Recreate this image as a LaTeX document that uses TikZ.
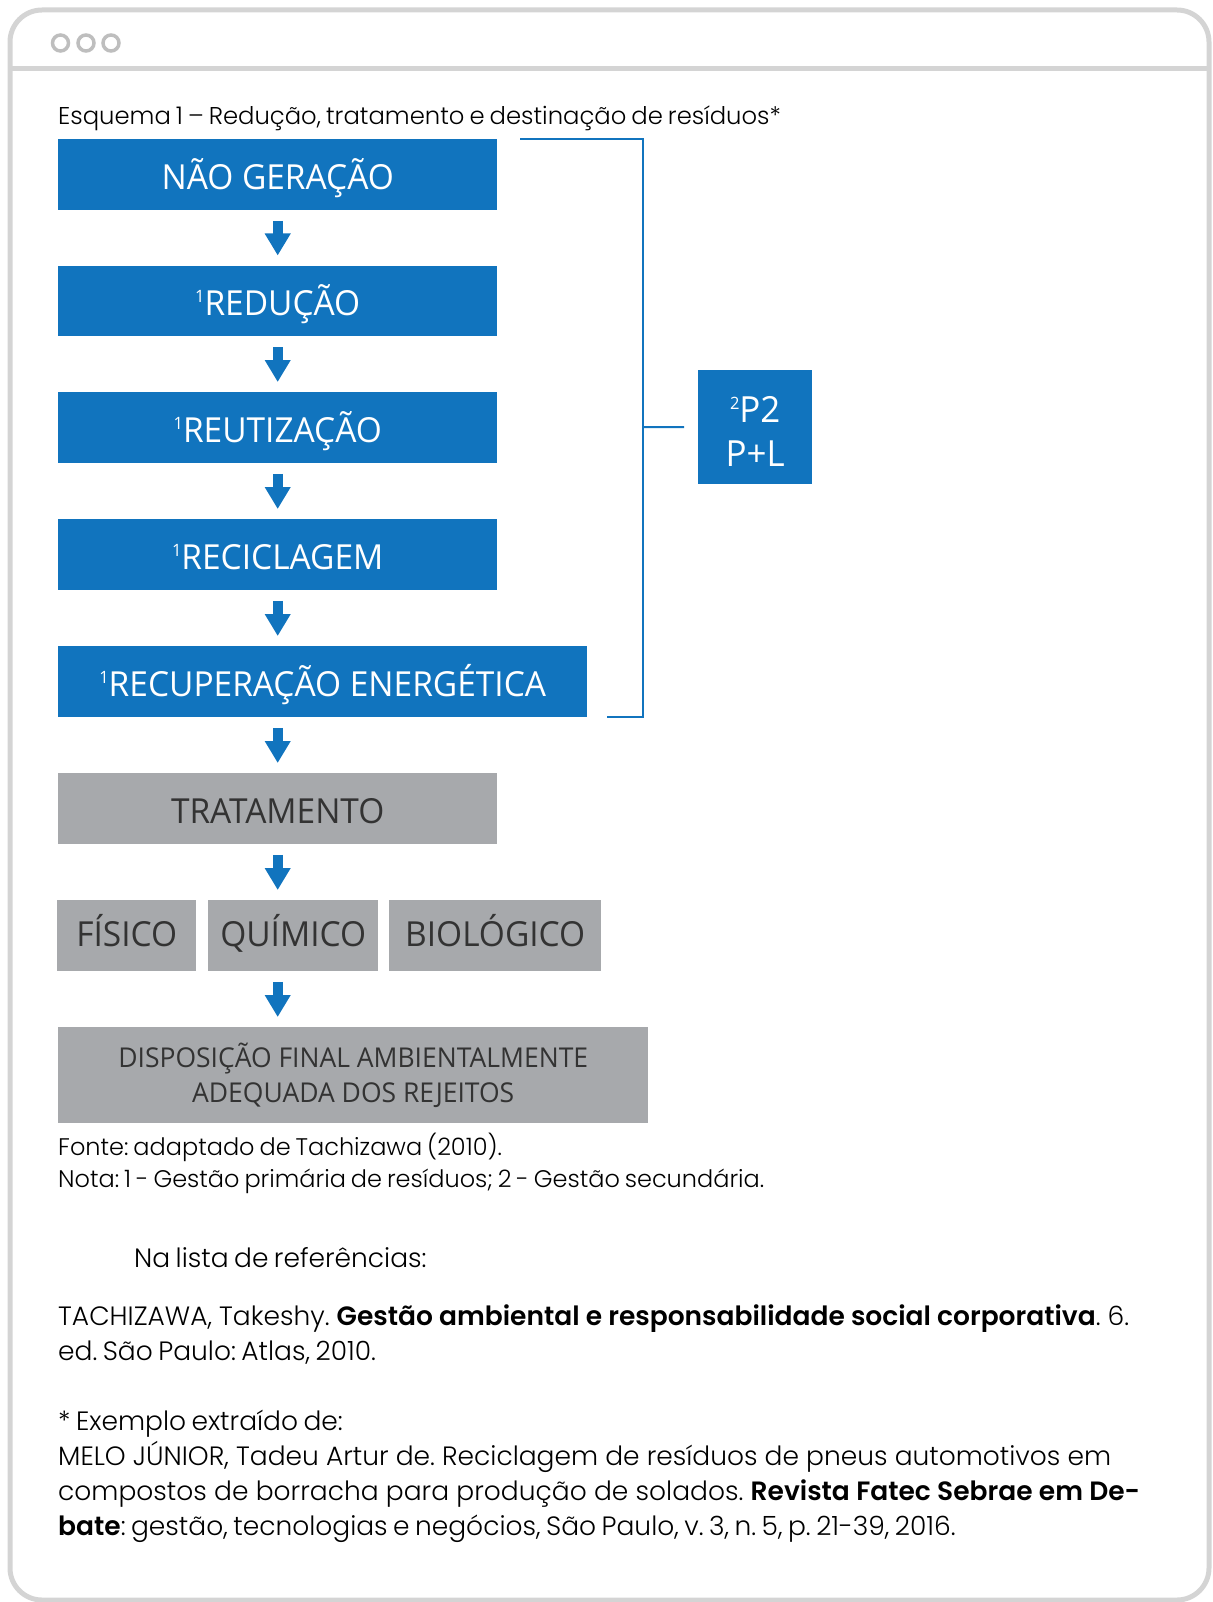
\documentclass[tikz,border=0pt]{standalone}
\usepackage{fontspec}
\setmainfont{Poppins Light}[BoldFont={Poppins SemiBold},WordSpace=0.75]
\newfontfamily\caixa{Open Sans}[FakeStretch=0.97]
\usetikzlibrary{arrows.meta,positioning}
\definecolor{azul}{RGB}{17,116,190}
\definecolor{cinza}{RGB}{167,169,172}
\definecolor{moldura}{RGB}{212,212,212}
\definecolor{bolinha}{RGB}{190,190,190}
\definecolor{escuro}{RGB}{51,51,51}
\newcommand\sobre[1]{\raisebox{13pt}{\fontsize{17}{17}\selectfont #1}}
\newcommand\linha[2]{\makebox[#1][s]{#2}}
\frenchspacing

\begin{document}
\begin{tikzpicture}[x=1pt,y=-1pt,
  caixa azul/.style={rectangle,fill=azul,text=white,inner sep=0pt,minimum height=70.5pt,text height=30pt,text depth=0pt,anchor=north west,font=\caixa\fontsize{34.5}{34.5}\selectfont},
  caixa cinza/.style={caixa azul,fill=cinza,text=escuro},
  caixa metodo/.style={caixa cinza,text height=23pt},
  seta/.style={draw=azul,line width=10pt,-{Triangle[width=24.5pt,length=22pt]},shorten <=11pt,shorten >=10pt},
  colchete/.style={draw=azul,line width=2pt},
  texto/.style={inner sep=0pt,anchor=base west,font=\fontsize{24}{24}\selectfont},
  texto ref/.style={texto,font=\fontsize{26.5}{26.5}\selectfont}]

  \useasboundingbox (0,0) rectangle (1212,1602);

  % janela
  \draw[moldura,line width=5pt,rounded corners=32pt] (10,10) rectangle (1209,1600);
  \draw[moldura,line width=5pt] (10,69) -- (1209,69);
  \foreach \x in {60.5,86,111}
    \draw[bolinha,line width=3.5pt] (\x,43) circle (8pt);

  \node[texto,font=\fontsize{24.3}{24.3}\selectfont] (legenda) at (58,125) {Esquema 1 – Redução, tratamento e destinação de resíduos*};

  % etapas
  \node[caixa azul,minimum width=439pt] (naoger) at (58,139) {NÃO GERAÇÃO};
  \node[caixa azul,minimum width=439pt] (reducao) at (58,265.5) {\sobre{1}REDUÇÃO};
  \node[caixa azul,minimum width=439pt] (reutil) at (58,392) {\sobre{1}REUTIZAÇÃO};
  \node[caixa azul,minimum width=439pt] (recicl) at (58,519) {\sobre{1}RECICLAGEM};
  \node[caixa azul,minimum width=529pt] (recup) at (58,646) {\sobre{1}RECUPERAÇÃO ENERGÉTICA};
  \node[caixa cinza,minimum width=439pt] (trat) at (58,773) {TRATAMENTO};
  \node[caixa metodo,minimum width=139pt] (fisico) at (57,900) {FÍSICO};
  \node[caixa metodo,minimum width=170pt] (quimico) at (208,900) {QUÍMICO};
  \node[caixa metodo,minimum width=212pt] (biolog) at (389,900) {BIOLÓGICO};
  \node[caixa cinza,minimum width=590pt,minimum height=96pt,text height=,text depth=,align=center,font=\caixa\fontsize{27.3}{35}\selectfont] (dispos) at (58,1027) {DISPOSIÇÃO FINAL AMBIENTALMENTE\\ADEQUADA DOS REJEITOS};

  \node[caixa azul,minimum width=114pt,minimum height=114pt,text height=78pt,text depth=0pt,align=center,font=\caixa\fontsize{36}{44}\selectfont] (p2) at (698,370) {\sobre{2}P2\\P+L};

  \draw[seta] (naoger) to (reducao);
  \draw[seta] (reducao) to (reutil);
  \draw[seta] (reutil) to (recicl);
  \draw[seta] (recicl.south) to (recicl.south |- recup.north);
  \draw[seta] (trat.north |- recup.south) to (trat.north);
  \draw[seta] (trat.south) to (trat.south |- quimico.north);
  \draw[seta] (trat.south |- quimico.south) to (trat.south |- dispos.north);

  % colchete P2 / P+L
  \coordinate (c1) at (520,139);
  \coordinate (c2) at (643,139);
  \coordinate (c3) at (643,717);
  \coordinate (c4) at (607,717);
  \coordinate (c5) at (643,427);
  \draw[colchete] (c1) -- (c2) -- (c3) -- (c4);
  \draw[colchete,shorten >=14pt] (c5) -- (p2);

  \node[texto] (fonte) at (58,1155) {Fonte: adaptado de Tachizawa (2010).};
  \node[texto] (nota) at (58,1187) {Nota: 1 - Gestão primária de resíduos; 2 - Gestão secundária.};

  \node[texto ref] (lista) at (134,1267) {Na lista de referências:};
  \node[texto ref] (ref1a) at (58,1325) {\linha{1071pt}{TACHIZAWA, Takeshy. \textbf{Gestão ambiental e responsabilidade social corporativa}. 6.}};
  \node[texto ref] (ref1b) at (58,1360) {ed. São Paulo: Atlas, 2010.};
  \node[texto ref] (ref2a) at (58,1430) {* Exemplo extraído de:};
  \node[texto ref] (ref2b) at (58,1465) {\linha{1053pt}{MELO JÚNIOR, Tadeu Artur de. Reciclagem de resíduos de pneus automotivos em}};
  \node[texto ref] (ref2c) at (58,1500) {\linha{1082pt}{compostos de borracha para produção de solados. \textbf{Revista Fatec Sebrae em De-}}};
  \node[texto ref] (ref2d) at (58,1535) {\textbf{bate}: gestão, tecnologias e negócios, São Paulo, v. 3, n. 5, p. 21-39, 2016.};
\end{tikzpicture}
\end{document}
